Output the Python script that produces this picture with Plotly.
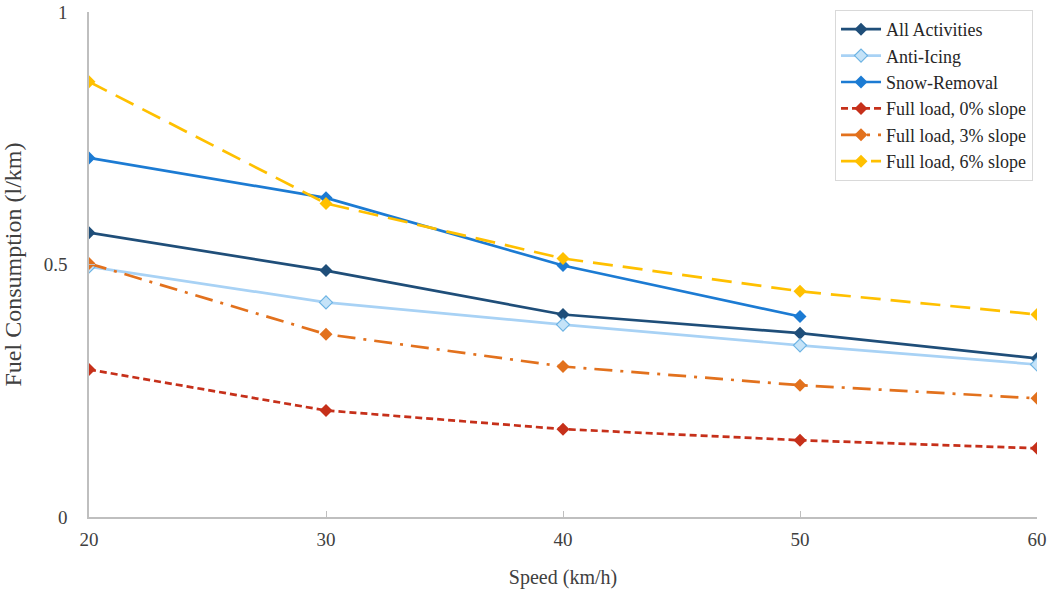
import plotly.graph_objects as go

speed = [20, 30, 40, 50, 60]
all_activities = [0.563, 0.488, 0.401, 0.364, 0.314]
anti_icing = [0.496, 0.425, 0.381, 0.340, 0.302]
snow_removal = [0.711, 0.632, 0.498, 0.397]
full_0 = [0.292, 0.211, 0.174, 0.152, 0.136]
full_3 = [0.502, 0.362, 0.298, 0.261, 0.235]
full_6 = [0.862, 0.621, 0.512, 0.447, 0.401]

FONT = "Liberation Serif, Times New Roman, serif"

fig = go.Figure()

def add(name, x, y, color, dash, fill=None, mline=None, width=2.7):
    fig.add_trace(go.Scatter(
        x=x, y=y, name=name, mode="lines+markers",
        line=dict(color=color, width=width, dash=dash),
        marker=dict(symbol="diamond", size=10, color=fill or color,
                    line=dict(color=mline or color, width=1.2 if mline else 0)),
    ))

add("All Activities", speed, all_activities, "#1F4E79", "solid")
add("Anti-Icing", speed, anti_icing, "#A8D2F5", "solid", fill="#C5E3F8", mline="#6DB3E3")
add("Snow-Removal", speed[:4], snow_removal, "#1C7BD3", "solid")
add("Full load, 0% slope", speed, full_0, "#C6301A", "7px,4px")
add("Full load, 3% slope", speed, full_3, "#E2711D", "18px,8px,3px,8px")
add("Full load, 6% slope", speed, full_6, "#FFC000", "20px,10px")

fig.update_layout(
    width=1049, height=591,
    margin=dict(l=89, r=12, t=11, b=74),
    paper_bgcolor="white", plot_bgcolor="white",
    font=dict(family=FONT, size=19, color="#404040"),
    showlegend=True,
    legend=dict(
        x=0.9958, y=1.002, xanchor="right", yanchor="top",
        bordercolor="#D9D9D9", borderwidth=1, bgcolor="white",
        font=dict(family=FONT, size=18, color="#262626"),
        tracegroupgap=0, itemwidth=40,
    ),
    xaxis=dict(
        range=[20, 60], tickvals=speed, ticks="inside", ticklen=6,
        tickcolor="#BFBFBF", showline=True, linecolor="#BFBFBF", linewidth=1.5,
        showgrid=False, zeroline=False, ticklabelstandoff=4, automargin=False,
        tickfont=dict(family=FONT, size=19, color="#404040"),
        title=dict(text="Speed (km/h)", font=dict(family=FONT, size=20, color="#404040"), standoff=21),
    ),
    yaxis=dict(
        range=[0, 1], tickvals=[0, 0.5, 1], ticktext=["0", "0.5", "1"],
        ticks="inside", ticklen=6, tickcolor="#BFBFBF",
        showline=True, linecolor="#BFBFBF", linewidth=1.5,
        showgrid=False, zeroline=False, ticklabelstandoff=16, automargin=False,
        tickfont=dict(family=FONT, size=19, color="#404040"),
        title=dict(text="Fuel Consumption (l/km)", font=dict(family=FONT, size=24, color="#404040"), standoff=20),
    ),
)

fig.write_html("out.html", config={"displayModeBar": False},
               post_script="document.body.style.margin='0';")
